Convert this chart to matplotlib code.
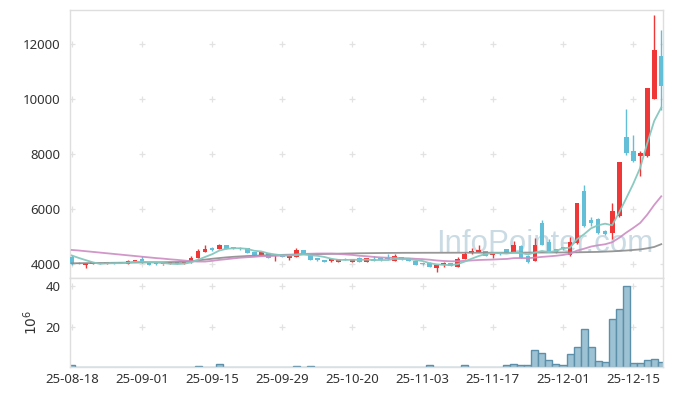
import matplotlib
matplotlib.use("Agg")
import matplotlib.pyplot as plt
import numpy as np

# daily candles, 85 trading days (25-08-18 .. 25-12-19)
opens = [4266, 4050, 3945, 4010, 4010, 3990, 4035, 4060, 4010, 4085,
         4180, 4060, 4000, 3990, 4015, 4020, 4025, 4060, 4230, 4450,
         4520, 4545, 4690, 4580, 4545, 4570, 4425, 4330, 4400, 4320,
         4330, 4230, 4265, 4510, 4375, 4160, 4155, 4110, 4085, 4195,
         4085, 4230, 4075, 4190, 4150, 4180, 4120, 4265, 4210, 4120,
         4000, 4050, 3840, 3950, 4020, 3900, 4180, 4390, 4450, 4480,
         4330, 4350, 4535, 4450, 4655, 4300, 4110, 5505, 4800, 4545,
         4590, 4330, 4775, 6670, 5615, 5630, 5200, 5120, 5750, 8635,
         8115, 7930, 7930, 10000, 11575]
highs = [4330, 4060, 4035, 4045, 4030, 4080, 4060, 4070, 4130, 4160,
         4290, 4065, 4020, 4010, 4045, 4040, 4050, 4280, 4535, 4680,
         4600, 4720, 4700, 4620, 4600, 4580, 4430, 4440, 4410, 4340,
         4340, 4310, 4570, 4520, 4380, 4180, 4160, 4190, 4190, 4200,
         4190, 4240, 4220, 4290, 4260, 4350, 4360, 4270, 4215, 4125,
         4020, 4055, 3960, 4080, 4030, 4240, 4420, 4570, 4680, 4490,
         4350, 4400, 4560, 4850, 4700, 4310, 4935, 5600, 4900, 4560,
         4620, 4970, 6230, 6875, 5720, 5660, 5230, 6210, 7715, 9630,
         8700, 8100, 10400, 13070, 12520]
lows = [3980, 3985, 3850, 3995, 3985, 3985, 4010, 4020, 4000, 4080,
        4050, 3970, 3970, 3960, 4000, 4000, 4015, 4050, 4220, 4440,
        4470, 4540, 4530, 4540, 4500, 4390, 4330, 4320, 4220, 4110,
        4240, 4150, 4255, 4365, 4140, 4120, 4075, 4060, 4075, 4130,
        4075, 4060, 4065, 4100, 4120, 4160, 4110, 4150, 4100, 3965,
        3980, 3890, 3720, 3900, 3920, 3890, 4170, 4350, 4430, 4290,
        4200, 4330, 4400, 4440, 4200, 4030, 4100, 4680, 4470, 4410,
        4520, 4300, 4740, 5350, 5380, 5100, 5060, 4910, 5720, 7980,
        7700, 7205, 7900, 9990, 9610]
closes = [3990, 3995, 4025, 4025, 3995, 4070, 4025, 4030, 4120, 4155,
          4060, 3975, 3985, 4000, 4025, 4010, 4035, 4220, 4475, 4535,
          4510, 4690, 4545, 4575, 4540, 4400, 4340, 4425, 4230, 4335,
          4245, 4300, 4510, 4375, 4155, 4150, 4085, 4180, 4180, 4140,
          4180, 4075, 4210, 4110, 4145, 4175, 4290, 4170, 4110, 3975,
          3995, 3900, 3950, 4020, 3930, 4180, 4360, 4480, 4500, 4300,
          4335, 4345, 4410, 4690, 4210, 4085, 4690, 4690, 4485, 4425,
          4570, 4800, 6230, 5385, 5505, 5120, 5090, 5940, 7715, 8050,
          7760, 8030, 10400, 11790, 10480]
# volume, millions of shares
volume = [0.9, 0.15, 0.15, 0.15, 0.15, 0.15, 0.15, 0.15, 0.15, 0.15,
          0.15, 0.15, 0.15, 0.15, 0.15, 0.15, 0.15, 0.15, 0.7, 0.15,
          0.15, 1.3, 0.15, 0.15, 0.15, 0.15, 0.15, 0.15, 0.15, 0.15,
          0.15, 0.15, 0.7, 0.15, 0.7, 0.15, 0.15, 0.15, 0.15, 0.15,
          0.15, 0.15, 0.15, 0.15, 0.15, 0.15, 0.15, 0.15, 0.15, 0.15,
          0.15, 0.8, 0.15, 0.15, 0.15, 0.15, 0.8, 0.15, 0.15, 0.15,
          0.15, 0.15, 0.9, 1.4, 0.9, 0.9, 8.3, 6.8, 3.4, 1.4,
          0.8, 6.2, 10.1, 18.7, 10.1, 2.9, 2.4, 23.9, 28.9, 40.3,
          1.8, 1.8, 3.4, 3.9, 2.4]
# moving averages
ma5 = [4310, 4220, 4140, 4060, 4006, 4022, 4028, 4029, 4048, 4080,
       4078, 4068, 4059, 4035, 4009, 3999, 4011, 4058, 4153, 4255,
       4355, 4486, 4551, 4571, 4572, 4550, 4480, 4456, 4387, 4346,
       4315, 4307, 4324, 4353, 4317, 4298, 4255, 4189, 4150, 4147,
       4153, 4151, 4157, 4143, 4144, 4143, 4186, 4178, 4178, 4144,
       4108, 4030, 3986, 3968, 3959, 3996, 4088, 4194, 4290, 4364,
       4395, 4392, 4378, 4416, 4398, 4348, 4417, 4473, 4432, 4475,
       4572, 4594, 4902, 5082, 5298, 5408, 5466, 5408, 5874, 6383,
       6911, 7499, 8391, 9206, 9692]
ma20 = [4510, 4490, 4465, 4440, 4415, 4390, 4365, 4340, 4315, 4290,
        4265, 4240, 4215, 4195, 4170, 4150, 4125, 4100, 4088, 4088,
        4114, 4148, 4174, 4202, 4229, 4246, 4261, 4281, 4287, 4296,
        4305, 4321, 4347, 4366, 4373, 4380, 4382, 4380, 4365, 4346,
        4329, 4298, 4282, 4258, 4239, 4227, 4225, 4212, 4206, 4188,
        4176, 4156, 4128, 4110, 4099, 4100, 4114, 4129, 4145, 4153,
        4161, 4174, 4184, 4213, 4216, 4212, 4232, 4258, 4277, 4299,
        4328, 4373, 4487, 4555, 4634, 4681, 4717, 4790, 4951, 5139,
        5310, 5494, 5794, 6149, 6462]
ma60 = [4025, 4028, 4031, 4034, 4037, 4040, 4043, 4046, 4049, 4052,
        4055, 4058, 4061, 4064, 4068, 4072, 4076, 4100, 4130, 4160,
        4190, 4215, 4240, 4260, 4275, 4290, 4300, 4310, 4318, 4325,
        4332, 4338, 4344, 4350, 4355, 4360, 4365, 4370, 4375, 4380,
        4385, 4390, 4393, 4396, 4399, 4401, 4403, 4405, 4406, 4406,
        4407, 4408, 4408, 4409, 4409, 4410, 4410, 4410, 4410, 4410,
        4410, 4410, 4411, 4412, 4413, 4414, 4415, 4416, 4417, 4418,
        4420, 4422, 4425, 4430, 4435, 4440, 4450, 4460, 4475, 4490,
        4510, 4530, 4570, 4620, 4720]
tick_pos = [0, 10, 20, 30, 40, 50, 60, 70, 80]
tick_labels = ['25-08-18', '25-09-01', '25-09-15', '25-09-29', '25-10-20',
               '25-11-03', '25-11-17', '25-12-01', '25-12-15']
price_ticks = [4000, 6000, 8000, 10000, 12000]
vol_ticks = [20, 40]

plt.rcParams['font.family'] = ['Noto Sans', 'DejaVu Sans']

up_color = '#ef3737'
down_color = '#63bed8'
spine_color = '#dedede'
grid_color = '#e2e2e2'
text_color = '#333333'

fig = plt.figure(figsize=(6.73, 3.96), dpi=100)
ax = fig.add_axes([70 / 673, 1 - 278 / 396, 593 / 673, 268 / 396])
axv = fig.add_axes([70 / 673, 1 - 367 / 396, 593 / 673, 89 / 396], sharex=ax)

x = np.arange(len(closes))
o = np.array(opens)
c = np.array(closes)
colors = [up_color if cc >= oo else down_color for oo, cc in zip(opens, closes)]

# wicks and bodies
ax.vlines(x, lows, highs, colors=colors, linewidth=1, zorder=2)
body_low = np.minimum(o, c)
body_h = np.maximum(np.abs(c - o), 55)
ax.bar(x, body_h, bottom=body_low, width=0.68, color=colors, linewidth=0, zorder=3)

# moving averages
ax.plot(x, ma60, color='#8c8c8c', linewidth=1.3, alpha=0.9, zorder=4)
ax.plot(x, ma20, color='#cc8cc3', linewidth=1.3, alpha=0.9, zorder=4)
ax.plot(x, ma5, color='#84c7bd', linewidth=1.3, alpha=0.95, zorder=4)

# watermark
ax.text(0.617, 0.07, 'InfoPointer.com', transform=ax.transAxes, fontsize=22.5,
        family='Liberation Sans', color='#b9d0dc', alpha=0.75, ha='left',
        va='bottom', zorder=1)

# volume
axv.bar(x, volume, width=1.0, color='#9dc2d3', edgecolor='#5c8fa9',
        linewidth=1, zorder=2)

ax.set_xlim(-0.25, 84.25)
ax.set_ylim(3490, 13240)
axv.set_ylim(0, 44.1)

# "+" marks at grid crossings
gx = tick_pos + [84.25]
for a, yt in ((ax, price_ticks), (axv, vol_ticks)):
    X, Y = np.meshgrid(gx, yt)
    a.scatter(X.ravel(), Y.ravel(), marker='+', s=20, color=grid_color,
              linewidths=0.9, zorder=1, clip_on=True)

for a in (ax, axv):
    for s in a.spines.values():
        s.set_color(spine_color)
        s.set_linewidth(1)
    a.tick_params(length=0, colors=text_color, labelsize=9.5)

ax.set_yticks(price_ticks)
ax.set_yticklabels([str(v) for v in price_ticks])
ax.tick_params(axis='x', labelbottom=False)
ax.tick_params(axis='y', pad=7)
axv.set_yticks(vol_ticks)
axv.set_yticklabels([str(v) for v in vol_ticks])
axv.tick_params(axis='y', pad=7)
axv.set_xticks(tick_pos)
axv.set_xticklabels(tick_labels)
axv.tick_params(axis='x', pad=4)
axv.set_ylabel('$10^6$', color=text_color, fontsize=10, labelpad=3)

fig.savefig('out.png', dpi=100)
